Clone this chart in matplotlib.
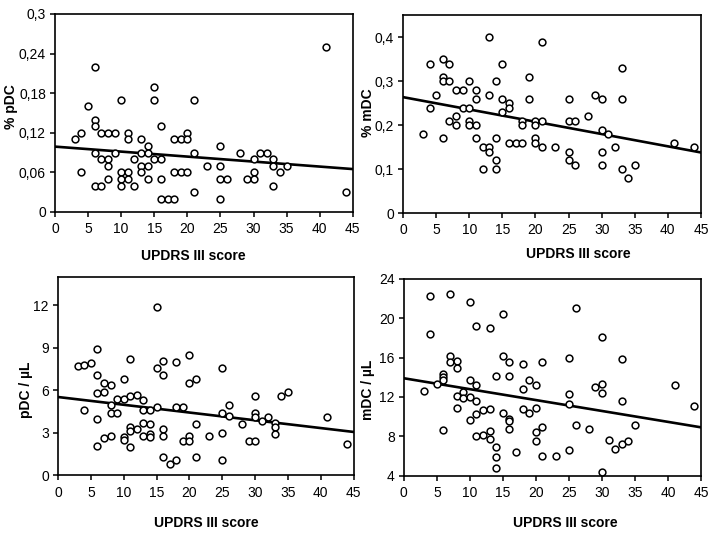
import numpy as np
import matplotlib
matplotlib.use("Agg")
import matplotlib.pyplot as plt

plt.rcParams['font.family'] = ['Liberation Sans', 'DejaVu Sans']

# UPDRS III score vs dendritic cell measures
pdc_pct_x = [3, 4, 4, 5, 6, 6, 6, 6, 6, 7, 7, 7, 8, 8, 8, 8, 9, 9, 10, 10, 10, 10,
             11, 11, 11, 11, 12, 12, 13, 13, 13, 13, 14, 14, 14, 14, 15, 15, 15,
             16, 16, 16, 16, 17, 18, 18, 18, 19, 19, 20, 20, 20, 21, 21, 21, 23,
             25, 25, 25, 25, 26, 28, 29, 30, 30, 30, 31, 32, 33, 33, 33, 34, 35, 41, 44]
pdc_pct_y = [.11, .12, .06, .16, .22, .14, .13, .09, .04, .12, .08, .04, .12, .08, .07, .05,
             .12, .09, .17, .06, .05, .04, .12, .11, .06, .05, .08, .04, .11, .09, .07, .06,
             .10, .09, .07, .05, .19, .17, .08, .13, .08, .05, .02, .02, .02, .11, .06, .11,
             .06, .12, .11, .06, .17, .09, .03, .07, .10, .07, .05, .02, .05, .09, .05, .08,
             .06, .05, .09, .09, .08, .07, .04, .06, .07, .25, .03]

mdc_pct_x = [3, 4, 4, 5, 6, 6, 6, 6, 7, 7, 7, 8, 8, 8, 9, 9, 10, 10, 10, 10, 11, 11, 11, 11,
             12, 12, 13, 13, 13, 13, 14, 14, 14, 14, 15, 15, 15, 16, 16, 16, 17, 18, 18, 18,
             19, 19, 20, 20, 20, 20, 21, 21, 21, 23, 25, 25, 25, 25, 26, 26, 28, 29, 30, 30,
             30, 30, 31, 32, 33, 33, 33, 34, 35, 41, 44]
mdc_pct_y = [.18, .34, .24, .27, .35, .31, .30, .17, .34, .30, .21, .28, .22, .20, .28, .24,
             .30, .24, .21, .20, .28, .26, .20, .17, .15, .10, .40, .27, .15, .14, .30, .17,
             .12, .10, .34, .26, .23, .25, .24, .16, .16, .16, .21, .20, .31, .26, .21, .20,
             .17, .16, .39, .21, .15, .15, .26, .21, .14, .12, .21, .11, .22, .27, .26, .19,
             .14, .11, .18, .15, .33, .26, .10, .08, .11, .16, .15]

pdc_ul_x = [3, 4, 4, 5, 6, 6, 6, 6, 6, 7, 7, 7, 8, 8, 8, 8, 9, 9, 10, 10, 10, 10, 11, 11, 11,
            11, 11, 12, 12, 13, 13, 13, 13, 14, 14, 14, 14, 15, 15, 15, 16, 16, 16, 16, 16, 17,
            18, 18, 18, 19, 19, 20, 20, 20, 20, 21, 21, 21, 23, 25, 25, 25, 25, 26, 26, 28, 29,
            30, 30, 30, 30, 31, 32, 33, 33, 33, 34, 35, 41, 44]
pdc_ul_y = [7.7, 7.8, 4.6, 7.9, 8.9, 7.1, 5.8, 4.0, 2.1, 6.5, 5.9, 2.6, 6.4, 5.0, 4.4, 2.8,
            5.4, 4.4, 6.8, 5.4, 2.7, 2.5, 8.2, 5.6, 3.4, 3.1, 2.0, 5.7, 3.3, 5.3, 4.6, 3.7, 2.8,
            4.6, 3.6, 2.9, 2.7, 11.9, 7.6, 4.8, 8.1, 7.1, 3.3, 2.8, 1.3, 0.8, 8.0, 4.8, 1.1,
            4.8, 2.4, 8.5, 6.5, 2.8, 2.4, 6.8, 3.6, 1.3, 2.8, 7.6, 4.4, 3.0, 1.1, 5.0, 4.2, 3.6,
            2.4, 2.4, 5.6, 4.4, 4.1, 3.8, 4.1, 3.7, 3.4, 2.9, 5.6, 5.9, 4.1, 2.2]

mdc_ul_x = [3, 4, 4, 5, 6, 6, 6, 6, 7, 7, 7, 8, 8, 8, 8, 9, 9, 10, 10, 10, 10, 11, 11, 11, 11,
            11, 12, 12, 13, 13, 13, 13, 14, 14, 14, 14, 15, 15, 15, 16, 16, 16, 16, 16, 17, 18,
            18, 18, 19, 19, 20, 20, 20, 20, 21, 21, 21, 23, 25, 25, 25, 25, 26, 26, 28, 29, 30,
            30, 30, 30, 31, 32, 33, 33, 33, 34, 35, 41, 44]
mdc_ul_y = [12.6, 22.2, 18.4, 13.3, 14.3, 14.0, 13.7, 8.6, 22.5, 16.2, 15.5, 15.7, 14.9, 12.1,
            10.9, 12.5, 11.9, 21.6, 13.7, 12.0, 9.7, 19.2, 13.2, 11.6, 10.3, 8.0, 10.7, 8.1,
            19.0, 10.8, 8.5, 7.7, 14.1, 6.9, 5.9, 4.8, 20.4, 16.2, 10.4, 15.5, 14.1, 9.8, 9.6,
            8.8, 6.4, 15.3, 12.8, 10.8, 13.7, 10.4, 13.2, 10.9, 8.4, 7.5, 15.6, 9.0, 6.0, 6.0,
            16.0, 12.3, 11.3, 6.6, 21.0, 9.2, 8.8, 13.0, 18.1, 13.3, 12.4, 4.4, 7.6, 6.7, 15.9,
            11.6, 7.2, 7.5, 9.2, 13.2, 11.1]

# regression lines, value at x=0 and x=45
fit_x = [0, 45]
pdc_pct_fit = [0.099, 0.065]
mdc_pct_fit = [0.264, 0.138]
pdc_ul_fit = [5.53, 3.06]
mdc_ul_fit = [13.9, 8.92]

x_ticks = [0, 5, 10, 15, 20, 25, 30, 35, 40, 45]
pdc_pct_ticks = [0, 0.06, 0.12, 0.18, 0.24, 0.3]
pdc_pct_labels = ['0', '0,06', '0,12', '0,18', '0,24', '0,3']
mdc_pct_ticks = [0, 0.1, 0.2, 0.3, 0.4]
mdc_pct_labels = ['0', '0,1', '0,2', '0,3', '0,4']
pdc_ul_ticks = [0, 3, 6, 9, 12]
mdc_ul_ticks = [4, 8, 12, 16, 20, 24]


def draw_panel(ax, x, y, fit, ylim, yticks, ylabels, ylabel, xlab_pos, ylab_pos):
    ax.plot(x, y, 'o', ms=4.9, mfc='white', mec='black', mew=1.1, zorder=3)
    ax.plot(fit_x, fit, color='black', lw=1.9, zorder=2)
    ax.set_xlim(0, 45)
    ax.set_ylim(*ylim)
    ax.set_xticks(x_ticks)
    ax.set_yticks(yticks)
    ax.set_yticklabels(ylabels)
    ax.tick_params(direction='out', length=3.5, width=1.1, labelsize=10, pad=3)
    ax.tick_params(axis='x', pad=4)
    for s in ax.spines.values():
        s.set_linewidth(1.2)
    ax.set_xlabel('UPDRS III score', fontsize=10, fontweight='bold')
    ax.xaxis.set_label_coords(*xlab_pos)
    ax.set_ylabel(ylabel, fontsize=10, fontweight='bold')
    ax.yaxis.set_label_coords(*ylab_pos)


fig = plt.figure(figsize=(7.16, 5.34), dpi=100)
ax1 = fig.add_axes([0.0768, 0.603, 0.416, 0.371])
ax2 = fig.add_axes([0.563, 0.601, 0.416, 0.370])
ax3 = fig.add_axes([0.081, 0.110, 0.413, 0.371])
ax4 = fig.add_axes([0.564, 0.109, 0.415, 0.369])

draw_panel(ax1, pdc_pct_x, pdc_pct_y, pdc_pct_fit, (0, 0.3), pdc_pct_ticks, pdc_pct_labels,
           '% pDC', (0.463, -0.187), (-0.124, 0.53))
draw_panel(ax2, mdc_pct_x, mdc_pct_y, mdc_pct_fit, (0, 0.45), mdc_pct_ticks, mdc_pct_labels,
           '% mDC', (0.587, -0.170), (-0.094, 0.51))
draw_panel(ax3, pdc_ul_x, pdc_ul_y, pdc_ul_fit, (0, 14), pdc_ul_ticks,
           [str(t) for t in pdc_ul_ticks], 'pDC / µL', (0.503, -0.207), (-0.084, 0.43))
draw_panel(ax4, mdc_ul_x, mdc_ul_y, mdc_ul_fit, (4, 24), mdc_ul_ticks,
           [str(t) for t in mdc_ul_ticks], 'mDC / µL', (0.545, -0.205), (-0.098, 0.436))

fig.savefig('out.png', dpi=100)
